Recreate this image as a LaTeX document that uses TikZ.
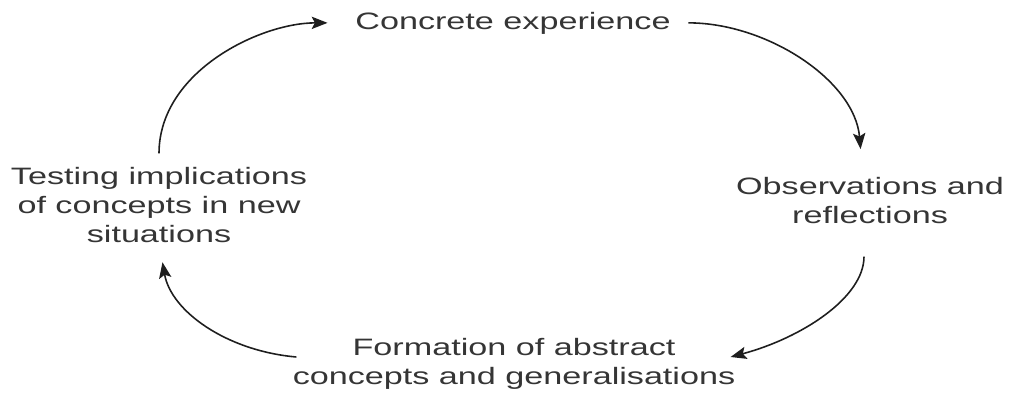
\documentclass[tikz,border=0pt]{standalone}
\usepackage{fontspec}
\setmainfont{Liberation Sans}[FakeStretch=1.44]
\usetikzlibrary{arrows.meta}
\definecolor{txtgray}{HTML}{353535}
\definecolor{arrgray}{HTML}{1E1E1E}

\begin{document}
\begin{tikzpicture}[stage/.style={inner sep=0pt,align=center,text=txtgray,font=\fontsize{13.5}{16.5}\selectfont},
        cyc/.style={color=arrgray,line width=0.9pt,-{Stealth[length=9pt,width=7pt,inset=1.8pt]}}]
            \useasboundingbox (0,0) rectangle (20.2,7.84);
            \node[stage,anchor=base] (C) at (10.26,7.26) {Concrete experience};
            \node[stage,anchor=base] (O) at (17.40,3.38) {Observations and\\reflections};
            \node[stage,anchor=base] (F) at (10.28,0.16) {Formation of abstract\\concepts and generalisations};
            \node[stage,anchor=base] (T) at (3.18,3.00) {Testing implications\\of concepts in new\\situations};
            \path (T.north) edge[cyc,out=90,in=180,shorten <=0.26cm,shorten >=0.55cm] (C.west);
            \path (C.east) edge[cyc,out=0,in=95,shorten <=0.35cm,shorten >=0.55cm] ([xshift=-0.14cm]O.north);
            \path ([xshift=-0.12cm]O.south) edge[cyc,out=-90,in=15,shorten <=0.66cm] ([xshift=-0.1cm,yshift=0.54cm]F.base east);
            \path ([xshift=0.08cm,yshift=0.54cm]F.base west) edge[cyc,out=175,in=-80,shorten >=0.4cm] (T.south);
\end{tikzpicture}
\end{document}
